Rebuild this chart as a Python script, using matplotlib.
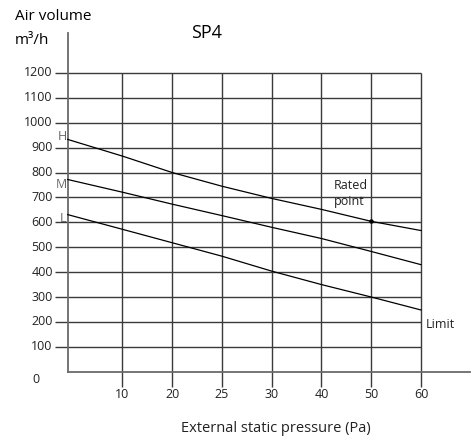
import numpy as np
import matplotlib
matplotlib.use("Agg")
import matplotlib.pyplot as plt

plt.rcParams['font.family'] = ['Open Sans', 'DejaVu Sans']

# pressure points (Pa); first one is the origin of the axis
pressure = [0, 10, 20, 25, 30, 40, 50, 60]
air_h = [933, 866, 800, 745, 696, 652, 604, 567]
air_m = [772, 721, 673, 627, 580, 535, 483, 430]
air_l = [631, 572, 518, 464, 404, 350, 300, 248]
y_ticks = [100, 200, 300, 400, 500, 600, 700, 800, 900, 1000, 1100, 1200]
rated_pressure = 50
rated_air = 604

# the x axis is not to scale: every tick sits one step apart
pos = np.arange(len(pressure), dtype=float)
pos[0] = -0.1

fig = plt.figure(figsize=(4.73, 4.42), dpi=100)
ax = fig.add_axes([0.1431, 0.1590, 0.7469, 0.6760])
ax.set_xlim(-0.1, 7)
ax.set_ylim(0, 1200)
ax.axis('off')

grid_col = '#3a3a3a'
axis_col = '#6a6a6a'
txt_col = '#222222'

# horizontal grid, poking out left of the axis as ticks
ax.hlines(y_ticks, -0.355, pos[-1], colors=grid_col, lw=1.0, clip_on=False)
# vertical grid, poking out below the axis
ax.vlines(pos[1:], -60, 1200, colors=grid_col, lw=1.0, clip_on=False)
# axis lines
ax.plot([pos[0], pos[0]], [0, 1360], color=axis_col, lw=1.3, clip_on=False)
ax.plot([pos[0], 7.98], [0, 0], color=axis_col, lw=1.3, clip_on=False)

for vals in (air_h, air_m, air_l):
    ax.plot(pos, vals, color='black', lw=0.9, clip_on=False)

rx = pos[pressure.index(rated_pressure)]
ax.plot([rx], [rated_air], 'o', color='black', ms=2.2)

# tick labels
for v in y_ticks:
    ax.text(-0.4, v, str(v), ha='right', va='center', fontsize=9, color=txt_col)
ax.text(-0.74, -32, '0', ha='center', va='center', fontsize=9, color=txt_col)
for p, v in zip(pos[1:], pressure[1:]):
    ax.text(p, -92, str(v), ha='center', va='center', fontsize=9, color=txt_col)

# curve names
ax.text(pos[0] - 0.02, 945, 'H', ha='right', va='center', fontsize=9, color='#666')
ax.text(pos[0] - 0.02, 750, 'M', ha='right', va='center', fontsize=9, color='#666')
ax.text(pos[0] - 0.02, 615, 'L', ha='right', va='center', fontsize=9, color='#666')

ax.text(rx - 0.75, 714, 'Rated\npoint', ha='left', va='center', fontsize=9,
        linespacing=1.3, color=txt_col)
ax.text(pos[-1] + 0.1, 190, 'Limit', ha='left', va='center', fontsize=9, color=txt_col)

fig.text(15 / 473, 1 - 17 / 442, 'Air volume', ha='left', va='center', fontsize=11)
fig.text(15 / 473, 1 - 41 / 442, 'm³/h', ha='left', va='center', fontsize=11)
fig.text(207 / 473, 1 - 33 / 442, 'SP4', ha='center', va='center', fontsize=13)
fig.text(276 / 473, 1 - 428 / 442, 'External static pressure (Pa)', ha='center',
         va='center', fontsize=10.5, color=txt_col)

fig.savefig('out.png', dpi=100)
